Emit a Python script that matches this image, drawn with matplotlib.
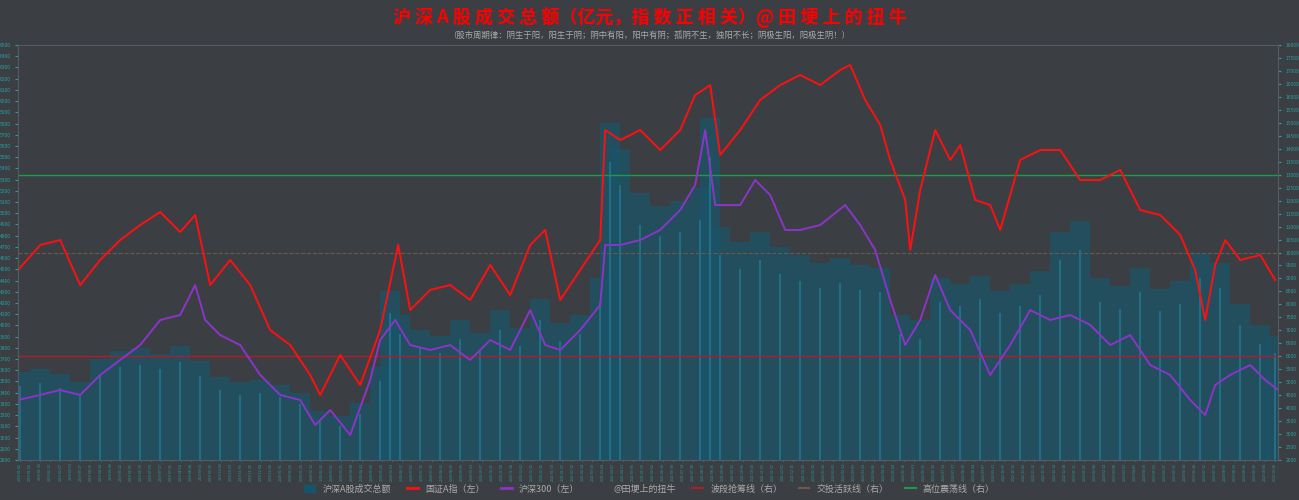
import numpy as np
import pandas as pd
import matplotlib
matplotlib.use("Agg")
import matplotlib.pyplot as plt
from matplotlib.lines import Line2D
from matplotlib.patches import Patch

plt.rcParams["font.family"] = ["Noto Sans CJK SC", "DejaVu Sans"]

# sample positions (x in plot pixels, 18..1278) and values
red_x = [18, 40, 60, 80, 100, 120, 140, 160, 180, 195, 210, 230, 250, 270, 290, 310, 320, 340, 360, 380,
         398, 410, 430, 450, 470, 490, 510, 530, 545, 560, 580, 600, 605, 620, 640, 660, 680, 695, 710, 720,
         740, 760, 780, 800, 820, 840, 850, 865, 880, 890, 905, 910, 920, 935, 950, 960, 975, 990, 1000, 1020,
         1040, 1060, 1080, 1100, 1120, 1140, 1160, 1180, 1195, 1205, 1215, 1225, 1240, 1260, 1275]
red_v = [4494, 4717, 4761, 4360, 4583, 4761, 4895, 5011, 4833, 4984, 4360, 4583, 4360, 3959, 3825, 3558, 3380, 3736, 3469, 3959,
         4717, 4137, 4316, 4360, 4227, 4539, 4271, 4717, 4851, 4227, 4494, 4761, 5742, 5653, 5742, 5564, 5742, 6054, 6143, 5519,
         5742, 6010, 6143, 6233, 6143, 6277, 6322, 6010, 5787, 5475, 5118, 4672, 5207, 5742, 5475, 5608, 5118, 5073, 4851, 5475,
         5564, 5564, 5296, 5296, 5386, 5029, 4984, 4806, 4494, 4048, 4539, 4761, 4583, 4628, 4405]

purple_x = [18, 40, 60, 80, 100, 120, 140, 160, 180, 195, 205, 220, 240, 260, 280, 300, 315, 330, 350, 370,
            380, 395, 410, 430, 450, 470, 490, 510, 530, 545, 560, 580, 600, 605, 620, 640, 660, 680, 695, 705,
            715, 740, 755, 770, 785, 800, 820, 845, 860, 875, 890, 905, 920, 935, 950, 970, 990, 1010, 1030, 1050,
            1070, 1090, 1110, 1130, 1150, 1170, 1190, 1205, 1215, 1230, 1250, 1265, 1278]
purple_v = [3335, 3380, 3424, 3380, 3558, 3692, 3825, 4048, 4093, 4360, 4048, 3914, 3825, 3558, 3380, 3335, 3112, 3246, 3023, 3513,
            3870, 4048, 3825, 3781, 3825, 3692, 3870, 3781, 4137, 3825, 3781, 3959, 4182, 4717, 4717, 4761, 4851, 5029, 5252, 5742,
            5073, 5073, 5296, 5163, 4851, 4851, 4895, 5073, 4895, 4672, 4227, 3825, 4048, 4449, 4137, 3959, 3558, 3825, 4137, 4048,
            4093, 4004, 3825, 3914, 3647, 3558, 3335, 3201, 3469, 3558, 3647, 3513, 3424]

vol_x = [20, 40, 60, 80, 100, 120, 140, 160, 180, 200, 220, 240, 260, 280, 300, 320, 340, 360, 380, 390,
         400, 420, 440, 460, 480, 500, 520, 540, 560, 580, 600, 610, 620, 640, 660, 680, 700, 710, 720, 740,
         760, 780, 800, 820, 840, 860, 880, 900, 920, 940, 960, 980, 1000, 1020, 1040, 1060, 1080, 1100, 1120, 1140,
         1160, 1180, 1200, 1220, 1240, 1260, 1275]
vol_v = [5400, 5500, 5300, 5000, 5900, 6200, 6300, 6100, 6400, 5800, 5200, 5000, 5100, 4900, 4600, 3900, 3700, 4200, 5600, 8500,
         7600, 7000, 6800, 7400, 6900, 7800, 7100, 8200, 7300, 7600, 9000, 15000, 14000, 12300, 11800, 12000, 12500, 15200, 11000, 10400,
         10800, 10200, 9900, 9600, 9800, 9500, 9400, 7600, 7400, 9000, 8800, 9100, 8500, 8800, 9300, 10800, 11200, 9000, 8700, 9400,
         8600, 8900, 10000, 9600, 8000, 7200, 6800]

line_low = 6000      # 波段抢筹线
line_mid = 10000     # 交投活跃线
line_high = 13000    # 高位震荡线

dates = pd.bdate_range("2019-01-02", periods=126, freq="10B").strftime("%Y-%m-%d").tolist()

fig = plt.figure(figsize=(12.99, 5.0), dpi=100)
fig.patch.set_facecolor("#3b3f44")
ax = fig.add_axes([0.014, 0.08, 0.970, 0.83])
ax2 = ax.twinx()
ax.set_zorder(2)
ax.patch.set_visible(False)
ax2.set_facecolor("#313740")

ax2.bar(vol_x, np.array(vol_v) - 2000, bottom=2000, width=20, color="#1a5468", alpha=0.75, linewidth=0)
ax2.bar(vol_x, np.array(vol_v) * 0.9 - 2000, bottom=2000, width=2, color="#1f6f88", linewidth=0)
ax2.axhline(line_high, color="#1e9a4a", lw=1)
ax2.axhline(line_mid, color="#6b5a4a", lw=0.8, ls="--")
ax2.axhline(line_low, color="#b01c2a", lw=1)
ax2.set_ylim(2000, 18000)
ax2.set_yticks(np.arange(2000, 18001, 500))

ax.plot(red_x, red_v, color="#ff1010", lw=1.4)
ax.plot(purple_x, purple_v, color="#8a35c8", lw=1.4)
ax.set_ylim(2800, 6500)
ax.set_yticks(np.arange(2800, 6501, 100))
ax.set_xlim(18, 1278)
ax.set_xticks(np.linspace(20, 1275, len(dates)))
ax.set_xticklabels(dates, rotation=90, fontsize=2.5, color="#2aa0a0")

for a in (ax, ax2):
    a.tick_params(axis="y", labelsize=3.5, colors="#2aa0a0", length=2)
    for s in a.spines.values():
        s.set_color("#555a60")
ax.tick_params(axis="x", length=1, colors="#2aa0a0", pad=1)

fig.text(0.5, 0.965, "沪 深 A 股 成 交 总 额（亿元，指 数 正 相 关）@ 田 埂 上 的 扭 牛",
         ha="center", va="center", color="#ff0000", fontsize=13, fontweight="bold")
fig.text(0.5, 0.93, "（股市周期律：阴生于阳，阳生于阴；阴中有阳，阳中有阴；孤阴不生，独阳不长；阴极生阳，阳极生阴！）",
         ha="center", va="center", color="#aaaaaa", fontsize=6)

handles = [Patch(color="#17546a"), Line2D([], [], color="#ff1010", lw=2), Line2D([], [], color="#8a35c8", lw=2),
           Line2D([], [], color="none"), Line2D([], [], color="#b01c2a"), Line2D([], [], color="#6b5a4a"),
           Line2D([], [], color="#1e9a4a")]
labels = ["沪深A股成交总额", "国证A指（左）", "沪深300（左）", "@田埂上的扭牛", "波段抢筹线（右）", "交投活跃线（右）", "高位震荡线（右）"]
fig.legend(handles, labels, loc="center", bbox_to_anchor=(0.5, 0.022), ncol=7, frameon=False,
           fontsize=6.5, labelcolor="#aaaaaa", handlelength=1.2, columnspacing=1.8)

fig.savefig("out.png", dpi=100, facecolor=fig.get_facecolor())
